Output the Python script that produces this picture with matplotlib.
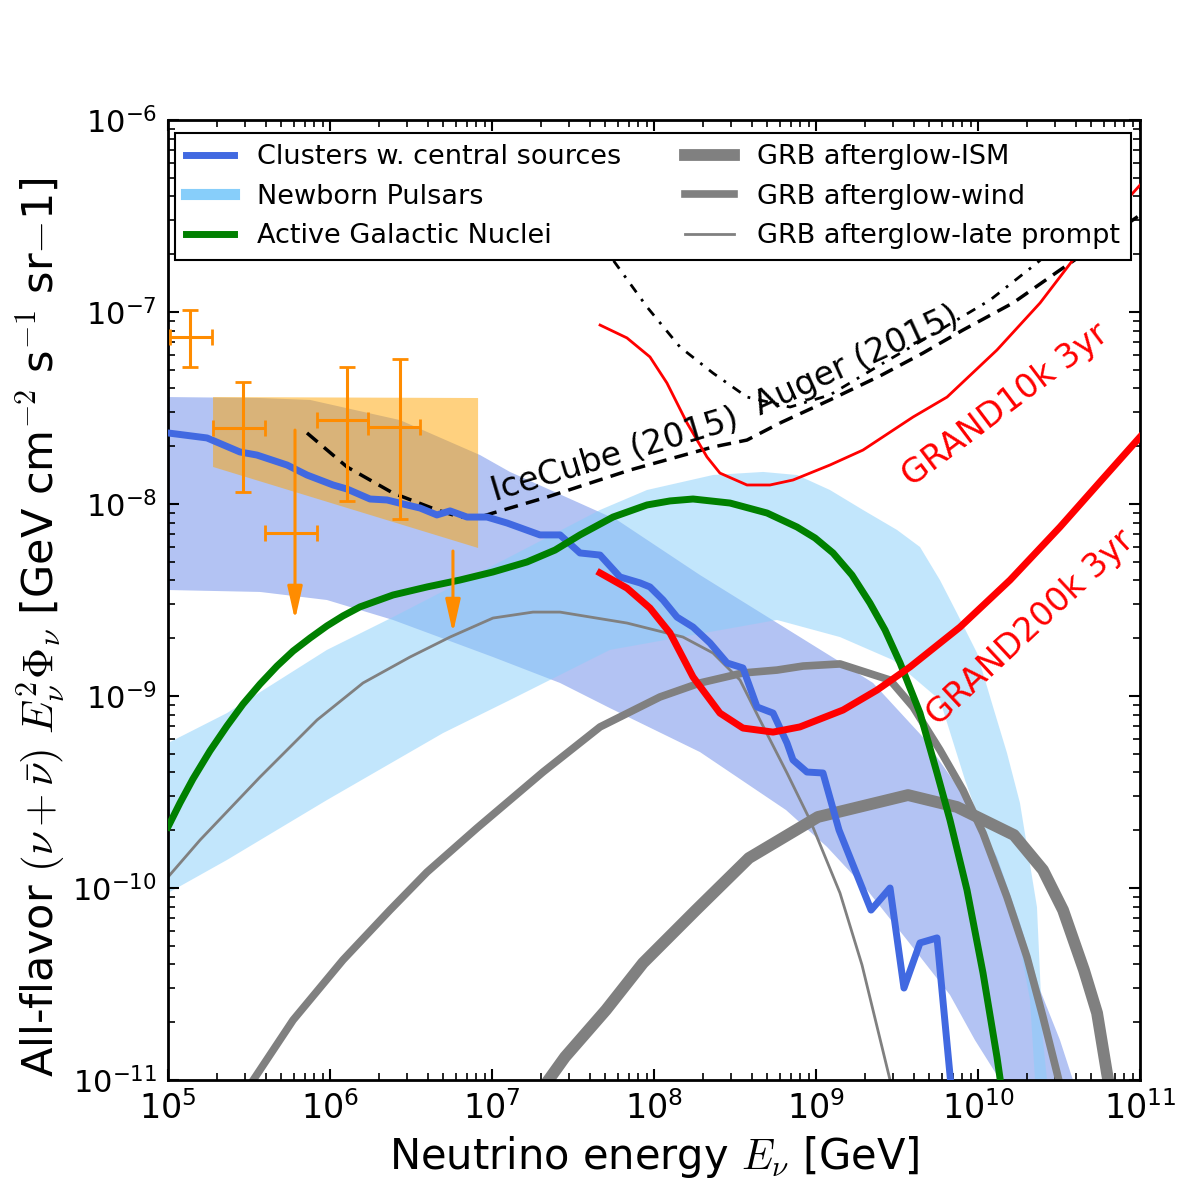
import numpy as np
import matplotlib
matplotlib.use('Agg')
import matplotlib.pyplot as plt
from matplotlib.lines import Line2D

plt.rcParams['mathtext.fontset'] = 'cm'
plt.rcParams['axes.unicode_minus'] = False
plt.rcParams['font.family'] = 'DejaVu Sans'

# --- values (log10 E [GeV], log10 flux) ---
clusters_logE = [5.000, 5.241, 5.444, 5.549, 5.735, 5.858, 6.019, 6.105, 6.247, 6.352, 6.451,
                 6.556, 6.660, 6.741, 6.846, 6.969, 7.093, 7.296, 7.420, 7.543, 7.667, 7.790,
                 7.914, 7.975, 8.056, 8.142, 8.241, 8.346, 8.451, 8.549, 8.636, 8.735, 8.821,
                 8.858, 8.944, 9.043, 9.142, 9.340, 9.457, 9.543, 9.642, 9.747, 9.833]
clusters_logF = [-7.630, -7.656, -7.729, -7.745, -7.797, -7.849, -7.901, -7.922, -7.974, -7.979,
                 -8.000, -8.021, -8.057, -8.036, -8.068, -8.068, -8.099, -8.161, -8.161, -8.255,
                 -8.266, -8.380, -8.411, -8.432, -8.500, -8.589, -8.641, -8.724, -8.828, -8.854,
                 -9.057, -9.089, -9.245, -9.333, -9.396, -9.401, -9.698, -10.115, -10.000,
                 -10.521, -10.286, -10.260, -11.026]

clusters_band_hi_logE = [5.000, 5.568, 5.877, 6.432, 6.926, 7.111, 7.772, 8.284, 9.130, 9.352,
                         9.660, 9.932, 10.117, 10.259, 10.383, 10.506, 10.586]
clusters_band_hi_logF = [-7.443, -7.448, -7.458, -7.563, -7.745, -7.833, -8.083, -8.370, -8.813,
                         -8.932, -9.214, -9.542, -9.839, -10.182, -10.531, -10.792, -11.0]
clusters_band_lo_logE = [5.000, 5.568, 5.981, 6.389, 7.006, 7.420, 7.728, 8.284, 8.815, 9.068,
                         9.315, 9.562, 9.827, 9.981, 10.136]
clusters_band_lo_logF = [-8.448, -8.458, -8.500, -8.604, -8.797, -8.932, -9.063, -9.292, -9.594,
                         -9.786, -10.010, -10.271, -10.557, -10.792, -11.0]

pulsar_hi_logE = [5.000, 5.364, 5.981, 6.389, 7.049, 7.667, 7.957, 8.364, 8.673, 8.883, 9.086,
                  9.290, 9.500, 9.642, 9.765, 9.870, 9.994, 10.093, 10.179, 10.259, 10.364,
                  10.401, 10.426]
pulsar_hi_logF = [-9.245, -9.089, -8.760, -8.589, -8.302, -8.031, -7.927, -7.849, -7.833, -7.849,
                  -7.927, -8.031, -8.135, -8.224, -8.396, -8.568, -8.776, -9.057, -9.297, -9.557,
                  -10.099, -10.792, -11.0]
pulsar_lo_logE = [5.000, 5.364, 5.981, 6.698, 7.111, 7.728, 8.759, 9.148, 9.475, 9.765, 9.920,
                  10.074, 10.222, 10.321, 10.352]
pulsar_lo_logF = [-10.026, -9.854, -9.542, -9.193, -9.021, -8.760, -8.604, -8.693, -8.813,
                  -9.021, -9.438, -9.802, -10.130, -10.583, -11.0]

agn_logE = [5.000, 5.074, 5.154, 5.259, 5.364, 5.463, 5.568, 5.673, 5.772, 5.877, 5.981, 6.080,
            6.185, 6.389, 6.599, 6.802, 7.006, 7.216, 7.389, 7.543, 7.747, 7.957, 8.099, 8.241,
            8.469, 8.698, 8.883, 8.994, 9.105, 9.222, 9.333, 9.426, 9.519, 9.642, 9.747, 9.827,
            9.932, 10.031, 10.117, 10.142]
agn_logF = [-9.682, -9.557, -9.432, -9.286, -9.156, -9.042, -8.938, -8.844, -8.766, -8.698,
            -8.635, -8.583, -8.536, -8.474, -8.432, -8.396, -8.354, -8.302, -8.240, -8.161,
            -8.068, -8.005, -7.984, -7.974, -7.995, -8.047, -8.120, -8.177, -8.255, -8.370,
            -8.516, -8.656, -8.828, -9.089, -9.401, -9.646, -10.010, -10.443, -10.880, -11.026]

grb_ism_logE = [7.327, 7.451, 7.704, 7.932, 8.259, 8.586, 9.012, 9.568, 9.870, 10.222, 10.401,
                10.525, 10.654, 10.735, 10.796, 10.809]
grb_ism_logF = [-11.026, -10.880, -10.635, -10.391, -10.115, -9.844, -9.630, -9.516, -9.578,
                -9.724, -9.906, -10.115, -10.427, -10.651, -10.964, -11.026]

grb_wind_logE = [5.506, 5.772, 6.080, 6.370, 6.599, 6.907, 7.315, 7.667, 8.037, 8.284, 8.549,
                 8.759, 8.920, 9.148, 9.457, 9.599, 9.765, 9.907, 10.031, 10.179, 10.302,
                 10.401, 10.488, 10.506]
grb_wind_logF = [-11.026, -10.688, -10.375, -10.115, -9.917, -9.688, -9.396, -9.161, -9.005,
                 -8.932, -8.880, -8.865, -8.844, -8.833, -8.917, -9.057, -9.281, -9.490, -9.714,
                 -10.047, -10.359, -10.672, -10.964, -11.026]

grb_late_logE = [5.000, 5.198, 5.568, 5.920, 6.204, 6.494, 6.741, 7.006, 7.253, 7.420, 7.833,
                 8.179, 8.364, 8.531, 8.654, 8.821, 8.963, 9.148, 9.284, 9.457]
grb_late_logF = [-9.943, -9.750, -9.422, -9.125, -8.932, -8.797, -8.693, -8.594, -8.563, -8.563,
                 -8.620, -8.693, -8.776, -8.917, -9.125, -9.401, -9.646, -10.026, -10.401, -11.0]

grand10k_logE = [7.667, 7.833, 7.975, 8.080, 8.204, 8.327, 8.407, 8.574, 8.716, 8.858, 9.086,
                 9.290, 9.599, 9.809, 10.117, 10.383, 10.586, 11.0]
grand10k_logF = [-7.068, -7.135, -7.234, -7.370, -7.578, -7.755, -7.839, -7.901, -7.901, -7.875,
                 -7.797, -7.719, -7.547, -7.443, -7.198, -6.953, -6.729, -6.339]

grand200k_logE = [7.667, 7.833, 7.975, 8.099, 8.241, 8.407, 8.549, 8.735, 8.901, 9.167, 9.377,
                  9.580, 9.889, 10.198, 10.506, 10.753, 11.0]
grand200k_logF = [-8.359, -8.438, -8.542, -8.672, -8.901, -9.089, -9.167, -9.188, -9.161, -9.073,
                  -8.969, -8.849, -8.641, -8.396, -8.120, -7.885, -7.651]

icecube_lim_logE = [5.858, 6.105, 6.389, 6.660, 6.802, 6.926, 7.006, 7.340, 7.852, 8.364, 8.574,
                    8.778]
icecube_lim_logF = [-7.630, -7.807, -7.943, -8.031, -8.068, -8.068, -8.047, -7.964, -7.823,
                    -7.703, -7.667, -7.578]
auger_lim_logE = [8.778, 9.086, 9.395, 9.660, 9.907, 10.216, 10.488, 11.0]
auger_lim_logF = [-7.578, -7.458, -7.333, -7.214, -7.094, -6.953, -6.792, -6.495]

dashdot_logE = [7.667, 7.747, 7.957, 8.160, 8.364, 8.574, 8.840, 9.086, 9.395, 9.765, 10.074,
                10.364, 10.630]
dashdot_logF = [-6.599, -6.729, -6.974, -7.182, -7.318, -7.443, -7.495, -7.432, -7.276, -7.094,
                -6.938, -6.745, -6.547]

# IceCube measured points
pts_logE = [5.136, 5.463, 6.105, 6.432]
pts_logE_lo = [5.012, 5.278, 5.920, 6.235]
pts_logE_hi = [5.272, 5.599, 6.235, 6.556]
pts_logF = [-7.130, -7.604, -7.563, -7.599]
pts_logF_lo = [-7.286, -7.938, -7.984, -8.078]
pts_logF_hi = [-6.990, -7.365, -7.286, -7.245]

# IceCube upper limits
ul_logE = [5.784, 6.759]
ul_logF_top = [-7.615, -8.245]
ul_logF_tip = [-8.604, -8.672]
ul_bar_logE = [5.784]
ul_bar_logE_lo = [5.599]
ul_bar_logE_hi = [5.920]
ul_bar_logF = [-8.151]

# IceCube fit band (corners)
fit_logE = [5.278, 6.914]
fit_hi_logF = [-7.443, -7.448]
fit_lo_logF = [-7.807, -8.229]


def p(v):
    return 10.0 ** np.asarray(v)


fig = plt.figure(figsize=(12, 12), dpi=100)
ax = fig.add_axes([0.14, 0.10, 0.81, 0.80])
ax.set_xscale('log')
ax.set_yscale('log')

# bands
cb_x = np.concatenate([p(clusters_band_hi_logE), p(clusters_band_lo_logE)[::-1]])
cb_y = np.concatenate([p(clusters_band_hi_logF), p(clusters_band_lo_logF)[::-1]])
ax.fill(cb_x, cb_y, color='royalblue', alpha=0.4, lw=0, zorder=1)

pb_x = np.concatenate([p(pulsar_hi_logE), p(pulsar_lo_logE)[::-1]])
pb_y = np.concatenate([p(pulsar_hi_logF), p(pulsar_lo_logF)[::-1]])
ax.fill(pb_x, pb_y, color='lightskyblue', alpha=0.5, lw=0, zorder=1.1)

fb_x = p([fit_logE[0], fit_logE[1], fit_logE[1], fit_logE[0]])
fb_y = p([fit_hi_logF[0], fit_hi_logF[1], fit_lo_logF[1], fit_lo_logF[0]])
ax.fill(fb_x, fb_y, color='orange', alpha=0.5, lw=0, zorder=1.2)

# GRB curves
ax.plot(p(grb_ism_logE), p(grb_ism_logF), color='gray', lw=8.5, zorder=2)
ax.plot(p(grb_wind_logE), p(grb_wind_logF), color='gray', lw=5.5, zorder=2)
ax.plot(p(grb_late_logE), p(grb_late_logF), color='gray', lw=2, zorder=2)

# experimental limits
ax.plot(p(icecube_lim_logE), p(icecube_lim_logF), color='k', lw=2.5, ls=(0, (4, 2.4)), zorder=3)
ax.plot(p(auger_lim_logE), p(auger_lim_logF), color='k', lw=2.5, ls=(0, (4, 2.4)), zorder=3)
ax.plot(p(dashdot_logE), p(dashdot_logF), color='k', lw=2, ls=(0, (3.5, 3, 1, 3)), zorder=3)

# models
ax.plot(p(clusters_logE), p(clusters_logF), color='royalblue', lw=5, zorder=4)
ax.plot(p(agn_logE), p(agn_logF), color='green', lw=5, zorder=4)

# GRAND sensitivities
ax.plot(p(grand10k_logE), p(grand10k_logF), color='red', lw=2, zorder=5)
ax.plot(p(grand200k_logE), p(grand200k_logF), color='red', lw=5, zorder=5)

# IceCube data
x = p(pts_logE)
ax.errorbar(x, p(pts_logF),
            xerr=[x - p(pts_logE_lo), p(pts_logE_hi) - x],
            yerr=[p(pts_logF) - p(pts_logF_lo), p(pts_logF_hi) - p(pts_logF)],
            fmt='none', ecolor='darkorange', elinewidth=2.2, capsize=6, capthick=2, zorder=6)
xb = p(ul_bar_logE)
ax.errorbar(xb, p(ul_bar_logF), xerr=[xb - p(ul_bar_logE_lo), p(ul_bar_logE_hi) - xb],
            fmt='none', ecolor='darkorange', elinewidth=2.2, capsize=6, capthick=2, zorder=6)
for e, top, tip in zip(ul_logE, ul_logF_top, ul_logF_tip):
    ax.annotate('', xy=(10 ** e, 10 ** tip), xytext=(10 ** e, 10 ** top),
                arrowprops=dict(arrowstyle='-|>,head_length=2.0,head_width=0.45',
                                color='darkorange', lw=2.2, shrinkA=0, shrinkB=0),
                zorder=6)

# labels on curves
ax.text(10 ** 7.759, 10 ** -7.745, 'IceCube (2015)', rotation=16.7, fontsize=24,
        ha='center', va='center', rotation_mode='anchor', zorder=7)
ax.text(10 ** 9.253, 10 ** -7.255, 'Auger (2015)', rotation=24.6, fontsize=24,
        ha='center', va='center', rotation_mode='anchor', zorder=7)
ax.text(10 ** 10.167, 10 ** -7.484, 'GRAND10k 3yr', rotation=37, fontsize=24, color='red',
        ha='center', va='center', rotation_mode='anchor', zorder=7)
ax.text(10 ** 10.321, 10 ** -8.646, 'GRAND200k 3yr', rotation=43, fontsize=24, color='red',
        ha='center', va='center', rotation_mode='anchor', zorder=7)

ax.set_xlim(1e5, 1e11)
ax.set_ylim(1e-11, 1e-6)

ax.tick_params(which='both', direction='in', top=True, right=True)
ax.tick_params(which='major', length=8, width=1.5, pad=8)
ax.tick_params(which='minor', length=5, width=1.2)
ax.tick_params(axis='x', labelsize=24)
ax.tick_params(axis='y', labelsize=22)
for s in ax.spines.values():
    s.set_linewidth(2)

ax.set_xlabel(r'Neutrino energy $E_\nu$ [GeV]', fontsize=30, labelpad=6)
ax.set_ylabel(r'All-flavor $(\nu+\bar{\nu})$ $E_\nu^2\Phi_\nu$ [GeV cm$^{-2}$ s$^{-1}$ sr$-$1]',
              fontsize=31)
ax.yaxis.set_label_coords(-0.103, 0.472)

handles = [
    Line2D([], [], color='royalblue', lw=5),
    Line2D([], [], color='lightskyblue', lw=8),
    Line2D([], [], color='green', lw=5),
    Line2D([], [], color='gray', lw=8.5),
    Line2D([], [], color='gray', lw=5.5),
    Line2D([], [], color='gray', lw=2),
]
labels = ['Clusters w. central sources', 'Newborn Pulsars', 'Active Galactic Nuclei',
          'GRB afterglow-ISM', 'GRB afterglow-wind', 'GRB afterglow-late prompt']
leg = ax.legend(handles, labels, ncol=2, loc='upper left', bbox_to_anchor=(0.007, 0.986),
                borderaxespad=0, fontsize=19.5, handlelength=1.8, handletextpad=0.85,
                columnspacing=2.35, labelspacing=0.5, fancybox=False, framealpha=1,
                edgecolor='k', borderpad=0.4)
leg.get_frame().set_linewidth(1.5)
leg.set_zorder(10)

fig.savefig('out.png', dpi=100)
